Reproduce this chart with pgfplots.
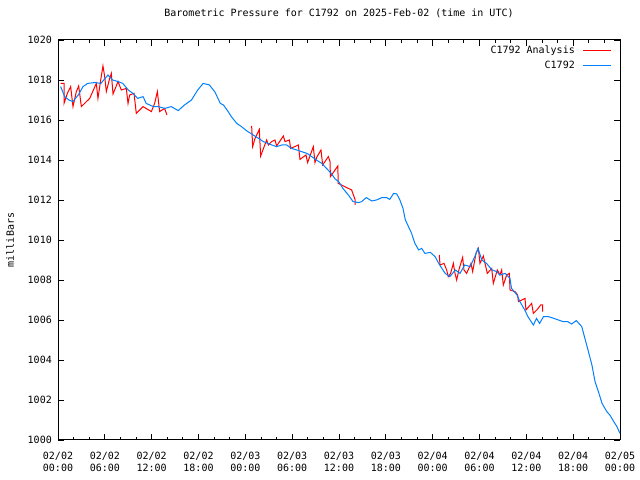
\documentclass[border=0pt]{standalone}
\usepackage{fontspec}
\setmainfont{DejaVu Sans Mono}
\usepackage{pgfplots}
\pgfplotsset{compat=1.18}
\definecolor{gpred}{RGB}{255,0,0}
\definecolor{gpblue}{RGB}{0,128,255}
\begin{document}
\begin{tikzpicture}[x=1bp,y=1bp]
\useasboundingbox (0,0) rectangle (640,480);
\begin{axis}[
  at={(58bp,40bp)}, anchor=south west,
  scale only axis, width=562bp, height=400bp,
  font=\fontsize{10bp}{12bp}\selectfont,
  xmin=0, xmax=72, ymin=1000, ymax=1020,
  xtick={0,6,...,72},
  minor x tick num=2,
  xticklabels={02/02\\00:00,02/02\\06:00,02/02\\12:00,02/02\\18:00,02/03\\00:00,02/03\\06:00,02/03\\12:00,02/03\\18:00,02/04\\00:00,02/04\\06:00,02/04\\12:00,02/04\\18:00,02/05\\00:00},
  xticklabel style={align=center, inner sep=0pt, yshift=-11.5bp, font=\fontsize{10bp}{12bp}\selectfont},
  ytick={1000,1002,...,1020},
  yticklabels={1000,1002,1004,1006,1008,1010,1012,1014,1016,1018,1020},
  yticklabel style={inner sep=0pt, xshift=-6bp, font=\fontsize{10bp}{12bp}\selectfont},
  major tick length=6bp, minor tick length=3bp,
  tick style={black, line width=0.8bp},
  axis line style={line width=1bp},
  ylabel={milliBars},
  ylabel style={at={(axis description cs:-0.0854,0.5)}, anchor=center, font=\fontsize{10bp}{12bp}\selectfont},
  title={Barometric Pressure for C1792 on 2025-Feb-02 (time in UTC)},
  title style={at={(axis description cs:0.5,1)}, anchor=center, yshift=21bp, font=\fontsize{10bp}{12bp}\selectfont},
  legend cell align=right,
  legend plot pos=right,
  legend image code/.code={\draw[#1] (0bp,0bp) -- (28bp,0bp);},
  legend style={at={(1,1)}, anchor=north east, xshift=-8bp, yshift=-4bp, draw=none, fill=none, inner sep=0pt, row sep=1.5bp, column sep=6bp, font=\fontsize{10bp}{12bp}\selectfont, nodes={inner sep=2bp}},
]
\addplot[gpred, line width=1bp] coordinates {
(0.34,1017.83)(0.77,1017.83)(0.77,1016.83)(1.20,1017.33)(1.62,1017.67)(1.92,1016.67)(2.35,1017.42)(2.65,1017.7)(2.99,1016.67)(4.06,1017.08)(4.91,1017.83)(5.12,1017.08)(5.47,1018.0)(5.76,1018.7)(5.98,1018.17)(6.19,1017.42)(6.62,1018.08)(6.83,1018.33)(7.05,1017.3)(7.69,1017.92)(8.11,1017.5)(8.75,1017.58)(8.97,1016.83)(9.18,1017.25)(9.74,1017.33)(10.03,1016.33)(10.89,1016.67)(11.96,1016.42)(12.38,1016.83)(12.73,1017.42)(13.02,1016.42)(13.66,1016.58)(13.96,1016.25)
};
\addlegendentry{C1792 Analysis}
\addplot[gpred, line width=1bp, forget plot] coordinates {
(24.81,1015.7)(24.94,1014.67)(25.24,1015.08)(25.79,1015.53)(25.96,1014.2)(26.73,1015.0)(26.95,1014.75)(27.37,1014.92)(27.8,1015.0)(28.01,1014.7)(28.87,1015.2)(29.08,1014.92)(29.64,1015.0)(29.81,1014.58)(30.79,1014.75)(31.0,1014.03)(31.77,1014.25)(31.98,1013.87)(32.71,1014.67)(32.92,1013.87)(33.14,1014.13)(33.69,1014.5)(33.91,1013.75)(34.63,1014.17)(34.85,1013.92)(34.9,1013.17)(35.85,1013.7)(35.9,1012.83)(37.62,1012.5)(38.05,1012.03)(38.05,1011.75)
};
\addplot[gpred, line width=1bp, forget plot] coordinates {
(48.85,1009.25)(48.94,1008.75)(49.45,1008.83)(49.79,1008.5)(50.0,1008.17)(50.3,1008.33)(50.65,1008.83)(50.86,1008.33)(51.07,1008.0)(51.41,1008.58)(51.84,1009.13)(52.01,1008.5)(52.35,1008.33)(52.91,1008.83)(53.12,1008.42)(53.55,1009.33)(53.85,1009.58)(54.06,1008.83)(54.49,1009.2)(55.0,1008.33)(55.56,1008.58)(55.77,1007.83)(56.28,1008.5)(56.62,1008.25)(56.84,1008.5)(57.05,1007.75)(57.48,1008.25)(57.82,1008.33)(57.91,1007.5)(58.55,1007.42)(58.89,1007.25)(58.98,1006.92)(59.83,1007.08)(59.95,1006.5)(60.68,1006.83)(60.9,1006.33)(61.41,1006.53)(61.83,1006.75)(62.09,1006.75)(62.09,1006.42)
};
\addplot[gpblue, line width=1bp] coordinates {
(0.34,1017.67)(0.85,1017.17)(1.4,1017.0)(1.9,1016.92)(2.6,1017.25)(3.2,1017.67)(3.8,1017.83)(4.7,1017.87)(5.5,1017.83)(6.4,1018.25)(7.0,1018.0)(7.7,1017.92)(8.3,1017.83)(9.0,1017.5)(9.6,1017.33)(10.2,1017.08)(10.9,1017.17)(11.3,1016.83)(12.2,1016.67)(12.8,1016.67)(13.7,1016.58)(14.5,1016.67)(15.4,1016.47)(16.2,1016.75)(17.1,1017.0)(17.9,1017.5)(18.6,1017.83)(19.4,1017.75)(20.1,1017.4)(20.8,1016.83)(21.2,1016.75)(21.8,1016.42)(22.2,1016.17)(22.9,1015.83)(23.5,1015.67)(24.2,1015.45)(25.0,1015.25)(25.7,1015.08)(26.3,1014.92)(26.9,1014.83)(27.4,1014.75)(28.0,1014.67)(28.7,1014.75)(29.3,1014.75)(29.9,1014.58)(30.6,1014.5)(31.2,1014.42)(31.9,1014.33)(32.5,1014.17)(33.1,1014.0)(33.8,1013.83)(34.4,1013.58)(35.0,1013.33)(35.5,1013.05)(36.0,1012.9)(36.5,1012.58)(37.2,1012.25)(37.8,1011.92)(38.5,1011.87)(38.9,1011.92)(39.5,1012.12)(40.2,1011.95)(40.8,1012.0)(41.5,1012.12)(42.1,1012.12)(42.5,1012.03)(43.0,1012.33)(43.4,1012.3)(43.8,1012.0)(44.2,1011.58)(44.5,1011.0)(44.9,1010.67)(45.3,1010.33)(45.7,1009.85)(46.2,1009.5)(46.6,1009.58)(47.0,1009.33)(47.7,1009.38)(48.3,1009.17)(48.9,1008.75)(49.6,1008.33)(50.2,1008.17)(50.9,1008.5)(51.5,1008.33)(52.1,1008.75)(52.8,1008.67)(53.4,1009.17)(53.8,1009.58)(54.3,1009.0)(54.9,1008.83)(55.6,1008.5)(56.2,1008.42)(56.6,1008.25)(57.3,1008.33)(57.9,1008.08)(58.1,1007.58)(58.8,1007.25)(59.2,1006.9)(59.8,1006.5)(60.2,1006.17)(60.9,1005.75)(61.3,1006.08)(61.7,1005.83)(62.2,1006.17)(62.8,1006.17)(63.4,1006.1)(64.1,1006.0)(64.7,1005.92)(65.3,1005.92)(65.8,1005.8)(66.4,1005.97)(67.1,1005.67)(67.5,1005.08)(67.9,1004.5)(68.4,1003.75)(68.8,1002.92)(69.3,1002.33)(69.7,1001.83)(70.3,1001.42)(70.7,1001.25)(71.2,1000.92)(71.6,1000.67)(72.0,1000.33)
};
\addlegendentry{C1792}
\end{axis}
\end{tikzpicture}
\end{document}
